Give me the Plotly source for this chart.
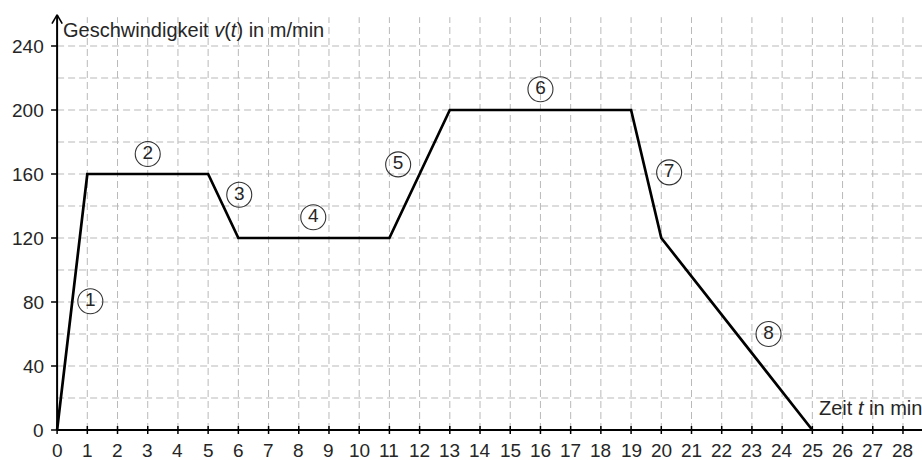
import plotly.graph_objects as go

# Speed profile v(t) in m/min over time t in min
t_vals = [0, 1, 5, 6, 11, 13, 19, 20, 25]
v_vals = [0, 160, 160, 120, 120, 200, 200, 120, 0]

# Circled segment markers
seg_labels = ["1", "2", "3", "4", "5", "6", "7", "8"]
seg_t = [1.1, 3.0, 6.03, 8.48, 11.29, 16.0, 20.26, 23.55]
seg_v = [80.5, 172.5, 147, 133, 166, 213, 161, 60]

x_ticks = list(range(0, 29))
y_ticks = [0, 40, 80, 120, 160, 200, 240]
y_grid = list(range(20, 241, 20))

X_MIN, X_MAX = -1.89, 28.63
Y_MIN, Y_MAX = -18.75, 268.75
FONT = "Liberation Sans, Arial, sans-serif"
TXT = "#262626"

fig = go.Figure()

shapes = []
grid_line = dict(color="#b9b9b9", width=1, dash="7px,4px")
# dashed grid
for x in x_ticks[1:]:
    shapes.append(dict(type="line", x0=x, x1=x, y0=0, y1=258, xref="x", yref="y",
                       line=grid_line, layer="below"))
for y in y_grid:
    shapes.append(dict(type="line", x0=0, x1=X_MAX, y0=y, y1=y, xref="x", yref="y",
                       line=grid_line, layer="below"))
# axes
shapes.append(dict(type="line", x0=0, x1=X_MAX, y0=0, y1=0, line=dict(color="black", width=2)))
shapes.append(dict(type="line", x0=0, x1=0, y0=0, y1=259.5, line=dict(color="black", width=2)))
# arrowhead on the v axis
shapes.append(dict(type="line", x0=-0.17, x1=0, y0=254, y1=259.5, line=dict(color="black", width=1.6)))
shapes.append(dict(type="line", x0=0.17, x1=0, y0=254, y1=259.5, line=dict(color="black", width=1.6)))
# tick marks
for x in x_ticks:
    shapes.append(dict(type="line", x0=x, x1=x, y0=-2.5, y1=2.5, line=dict(color="black", width=1.5)))
for y in y_ticks:
    shapes.append(dict(type="line", x0=-0.2, x1=0, y0=y, y1=y, line=dict(color="black", width=1.5)))

fig.add_trace(go.Scatter(x=t_vals, y=v_vals, mode="lines",
                         line=dict(color="black", width=2.7), hoverinfo="skip"))

fig.add_trace(go.Scatter(x=seg_t, y=seg_v, mode="markers+text", text=seg_labels,
                         textposition="middle center",
                         textfont=dict(family=FONT, size=19, color=TXT),
                         marker=dict(symbol="circle-open", size=25,
                                     line=dict(color="#333", width=1.1), color="#333"),
                         hoverinfo="skip"))

annotations = []
for x in x_ticks:
    annotations.append(dict(x=x, y=-12.6, text=str(x), showarrow=False, xanchor="center", yanchor="middle",
                            font=dict(family=FONT, size=19, color=TXT)))
for y in y_ticks:
    annotations.append(dict(x=-0.38, y=y, text=str(y), showarrow=False, xanchor="right", yanchor="middle",
                            font=dict(family=FONT, size=19, color=TXT)))
annotations.append(dict(x=0.14, y=250, text="Geschwindigkeit <i>v</i>(<i>t</i>) in m/min", showarrow=False,
                        xanchor="left", yanchor="middle", font=dict(family=FONT, size=20, color=TXT)))
annotations.append(dict(x=25.17, y=13.5, text="Zeit <i>t</i> in min", showarrow=False,
                        xanchor="left", yanchor="middle", font=dict(family=FONT, size=20, color=TXT)))

fig.update_layout(
    width=922, height=460,
    margin=dict(l=0, r=0, t=0, b=0),
    paper_bgcolor="white", plot_bgcolor="white",
    showlegend=False,
    xaxis=dict(range=[X_MIN, X_MAX], visible=False, fixedrange=True),
    yaxis=dict(range=[Y_MIN, Y_MAX], visible=False, fixedrange=True),
    shapes=shapes,
    annotations=annotations,
)

fig.write_html("out.html")
